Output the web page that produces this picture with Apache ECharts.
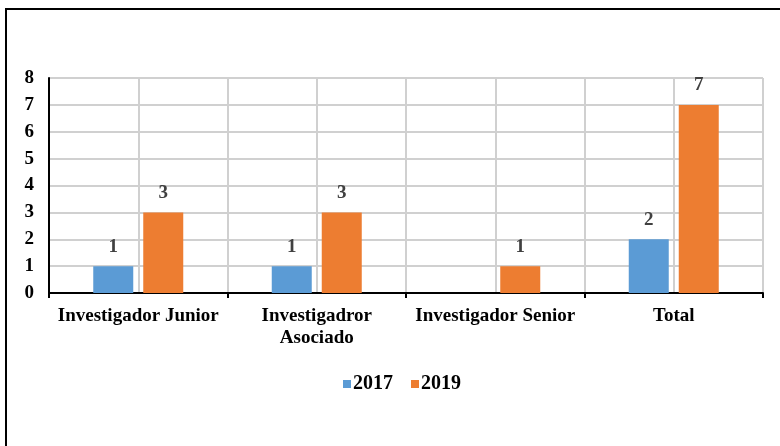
<!DOCTYPE html>
<html>
<head>
<meta charset="utf-8">
<script src="https://cdn.jsdelivr.net/npm/echarts@6/dist/echarts.min.js"></script>
<style>
  html, body { margin: 0; padding: 0; background: #fff; }
  #chart { width: 780px; height: 446px; }
</style>
</head>
<body>
<div id="chart"></div>
<script>
const categories = ['Investigador Junior', 'Investigadror\nAsociado', 'Investigador Senior', 'Total'];
const values2017 = [1, 1, null, 2];
const values2019 = [3, 3, 1, 7];
const seriesNames = ['2017', '2019'];

const font = 'Liberation Serif, Times New Roman, serif';

const chart = echarts.init(document.getElementById('chart'));
const option = {
  animation: false,
  backgroundColor: '#fff',
  textStyle: { fontFamily: font },
  graphic: [{
    type: 'polyline',
    shape: { points: [[6, 446], [6, 9], [780, 9]] },
    style: { stroke: '#000', lineWidth: 2, fill: null }
  }],
  legend: {
    data: seriesNames,
    top: 369,
    left: 338,
    itemWidth: 8,
    itemHeight: 8,
    itemGap: 18,
    icon: 'rect',
    textStyle: { fontFamily: font, fontWeight: 'bold', fontSize: 20, color: '#000', padding: [0, 0, 0, -3] }
  },
  grid: { left: 49, right: 17, top: 78, bottom: 153 },
  xAxis: [{
    type: 'category',
    data: categories,
    axisLine: { lineStyle: { color: '#000', width: 2 } },
    axisTick: { show: true, length: 5, lineStyle: { color: '#000', width: 2 } },
    axisLabel: {
      fontFamily: font, fontWeight: 'bold', fontSize: 19, color: '#000',
      margin: 12, lineHeight: 22, interval: 0
    },
    splitLine: { show: false }
  }, {
    type: 'value',
    min: 0, max: 4, interval: 0.5,
    position: 'bottom',
    axisLine: { show: false },
    axisTick: { show: false },
    axisLabel: { show: false },
    splitLine: { show: true, lineStyle: { color: '#d0d0d0', width: 2 } }
  }],
  yAxis: {
    type: 'value',
    min: 0, max: 8, interval: 1,
    axisLine: { show: true, lineStyle: { color: '#000', width: 2 } },
    axisTick: { show: false },
    axisLabel: { fontFamily: font, fontWeight: 'bold', fontSize: 19, color: '#000', margin: 15 },
    splitLine: { lineStyle: { color: '#d0d0d0', width: 2 } }
  },
  series: [{
    name: seriesNames[0],
    type: 'bar',
    data: values2017,
    barWidth: 40,
    barGap: '25%',
    itemStyle: { color: '#5B9BD5' },
    label: { show: true, position: 'top', distance: 10, fontFamily: font, fontWeight: 'bold', fontSize: 19, color: '#404040' }
  }, {
    name: seriesNames[1],
    type: 'bar',
    data: values2019,
    barWidth: 40,
    barGap: '25%',
    itemStyle: { color: '#ED7D31' },
    label: { show: true, position: 'top', distance: 10, fontFamily: font, fontWeight: 'bold', fontSize: 19, color: '#404040' }
  }]
};
chart.setOption(option);
</script>
</body>
</html>
